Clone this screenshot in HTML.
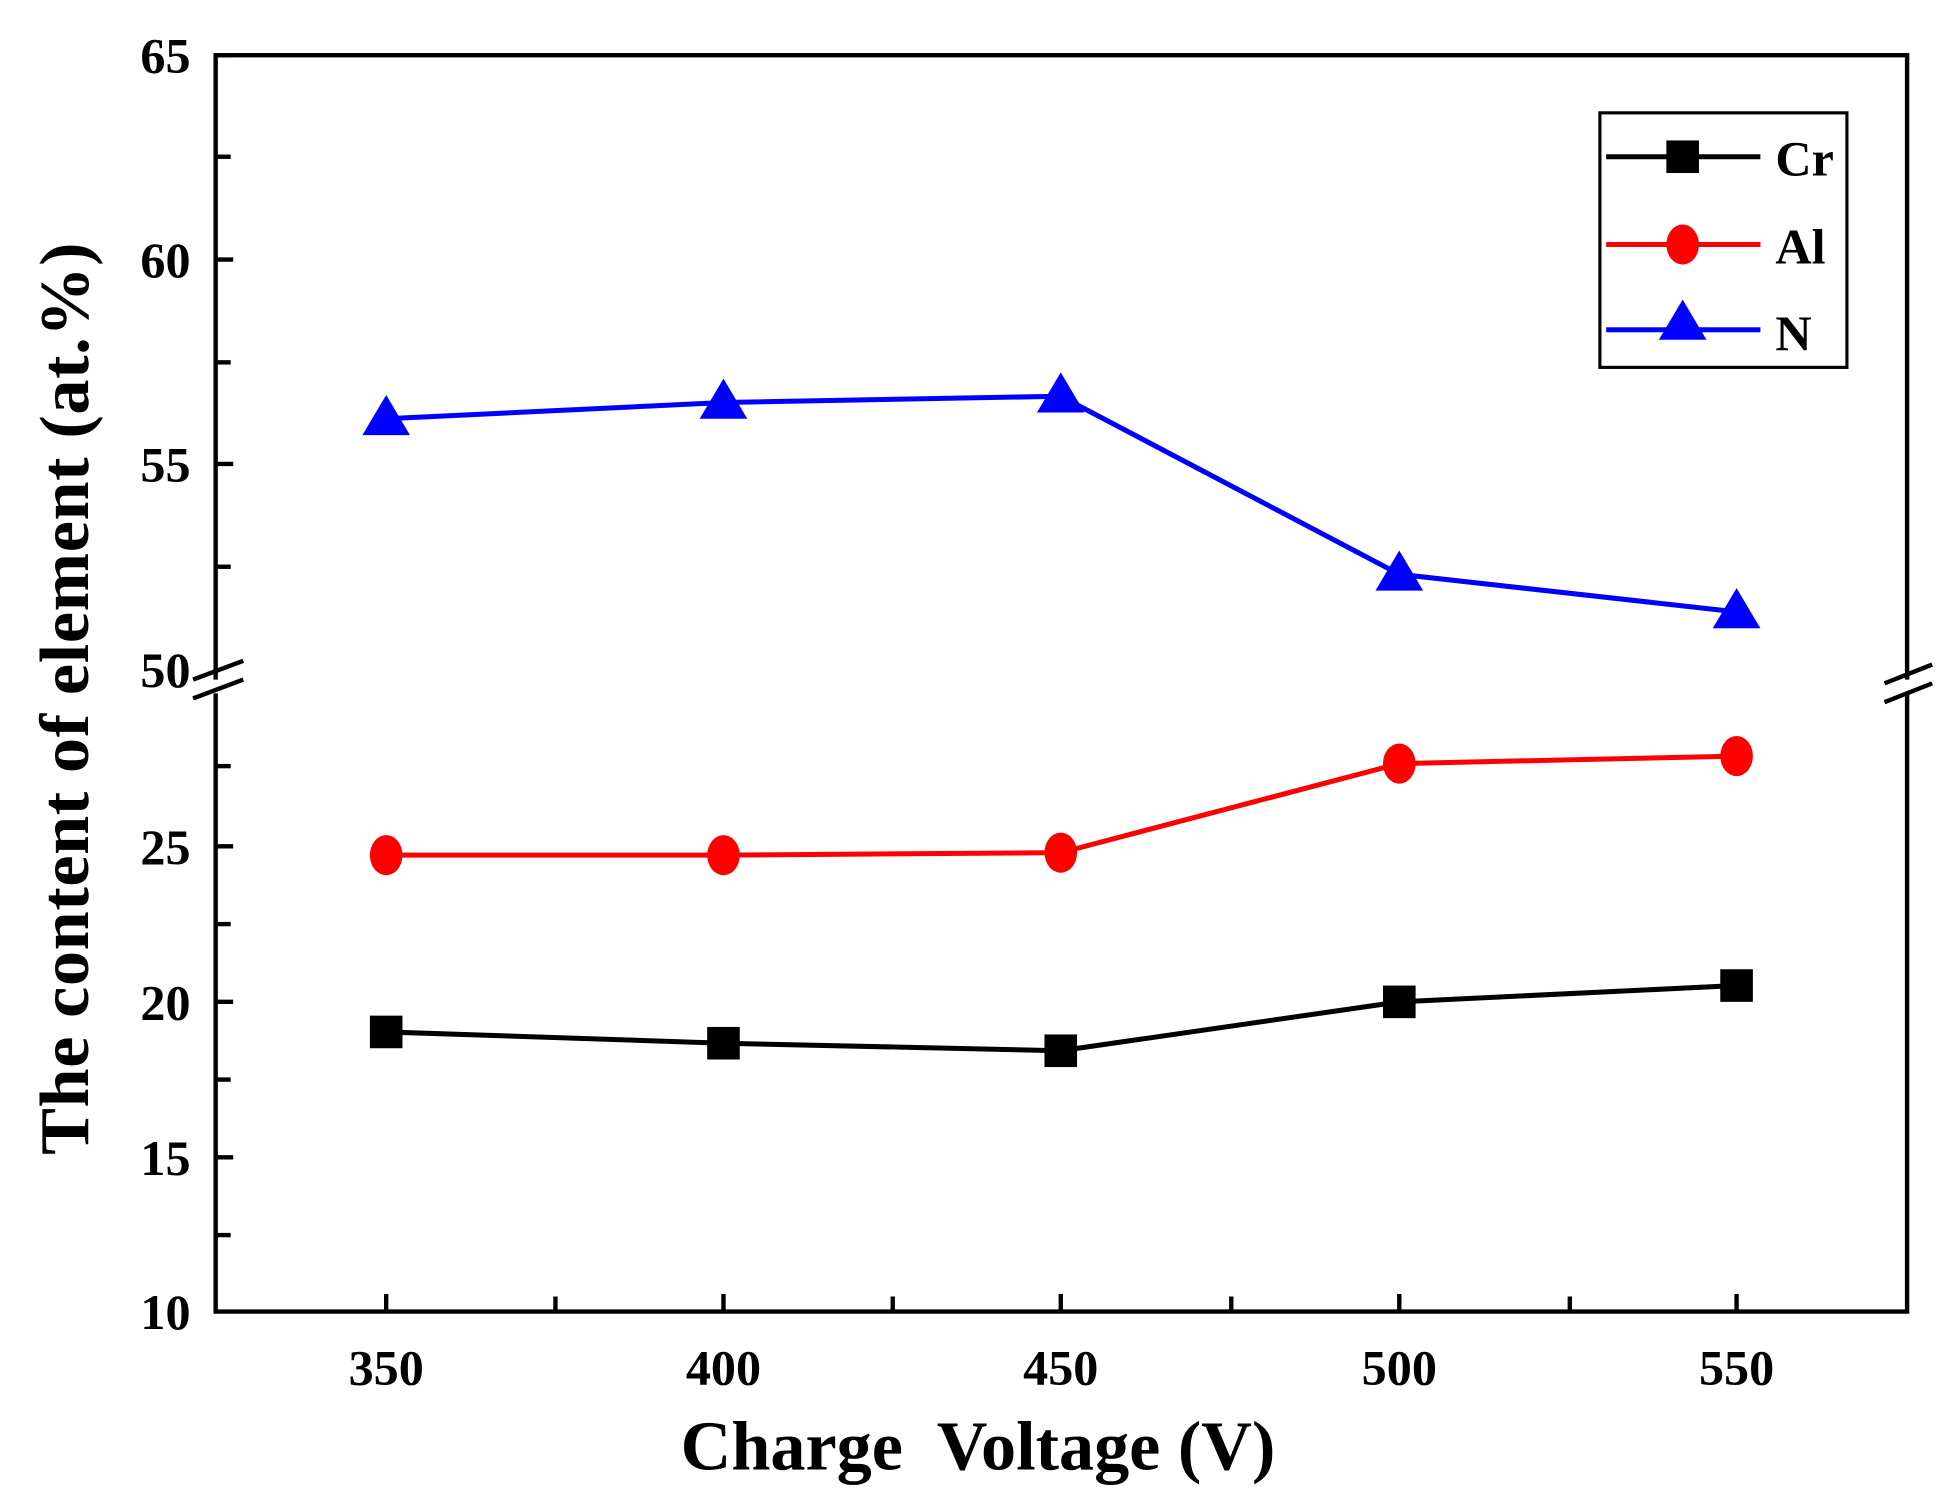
<!DOCTYPE html>
<html><head><meta charset="utf-8"><style>html,body{margin:0;padding:0;background:#fff;}svg{display:block}</style></head>
<body>
<svg width="1956" height="1498" viewBox="0 0 1560 1194.7" preserveAspectRatio="none" xmlns="http://www.w3.org/2000/svg" font-family="Liberation Serif, serif" font-weight="bold">
<defs>
<rect id="sq" x="-13" y="-13" width="26" height="26" fill="#000"/>
<ellipse id="ci" cx="0" cy="0" rx="13" ry="16" fill="#f00"/>
<polygon id="tr" points="0,-19 19,13 -19,13" fill="#00f"/>
</defs>
<g stroke="#000" stroke-width="3.5" fill="none">
<polyline points="172,542 172,44 1521,44 1521,542"/>
<polyline points="172,553 172,1046 1521,1046 1521,553"/>
<line x1="154" y1="542" x2="194" y2="527"/><line x1="154" y1="557" x2="194" y2="542"/>
<line x1="1503" y1="560" x2="1541" y2="545"/><line x1="1503" y1="545" x2="1541" y2="530"/>
<line x1="172" y1="44" x2="186" y2="44"/><line x1="172" y1="125" x2="184" y2="125"/>
<line x1="172" y1="207" x2="186" y2="207"/><line x1="172" y1="289" x2="184" y2="289"/>
<line x1="172" y1="370" x2="186" y2="370"/><line x1="172" y1="452" x2="184" y2="452"/>
<line x1="172" y1="611" x2="184" y2="611"/><line x1="172" y1="675" x2="186" y2="675"/>
<line x1="172" y1="737" x2="184" y2="737"/><line x1="172" y1="799" x2="186" y2="799"/>
<line x1="172" y1="861" x2="184" y2="861"/><line x1="172" y1="923" x2="186" y2="923"/>
<line x1="172" y1="985" x2="184" y2="985"/>
<line x1="308" y1="1046" x2="308" y2="1032"/><line x1="443" y1="1046" x2="443" y2="1034"/>
<line x1="577" y1="1046" x2="577" y2="1032"/><line x1="712" y1="1046" x2="712" y2="1034"/>
<line x1="846" y1="1046" x2="846" y2="1032"/><line x1="982" y1="1046" x2="982" y2="1034"/>
<line x1="1116" y1="1046" x2="1116" y2="1032"/><line x1="1252" y1="1046" x2="1252" y2="1034"/>
<line x1="1385" y1="1046" x2="1385" y2="1032"/>
</g>
<g font-size="40" text-anchor="end">
<text x="152" y="58">65</text><text x="152" y="221">60</text><text x="152" y="384">55</text><text x="152" y="548">50</text>
<text x="152" y="689">25</text><text x="152" y="813">20</text><text x="152" y="937">15</text><text x="152" y="1060">10</text>
</g>
<g font-size="40" text-anchor="middle">
<text x="308" y="1104">350</text><text x="577" y="1104">400</text><text x="846" y="1104">450</text><text x="1116" y="1104">500</text><text x="1385" y="1104">550</text>
</g>
<text x="780" y="1172" font-size="56" text-anchor="middle" xml:space="preserve">Charge  Voltage (V)</text>
<text transform="translate(70,557) rotate(-90)" font-size="56" text-anchor="middle" letter-spacing="0.5">The content of element (at.%)</text>
<polyline points="308,334 577,321 846,316 1116,458 1385,488" fill="none" stroke="#00f" stroke-width="4"/>
<polyline points="308,682 577,682 846,680 1116,609 1385,603" fill="none" stroke="#f00" stroke-width="4"/>
<polyline points="308,823 577,832 846,838 1116,799 1385,786" fill="none" stroke="#000" stroke-width="4"/>
<use href="#tr" x="308" y="334"/><use href="#tr" x="577" y="321"/><use href="#tr" x="846" y="316"/><use href="#tr" x="1116" y="458"/><use href="#tr" x="1385" y="488"/>
<use href="#ci" x="308" y="682"/><use href="#ci" x="577" y="682"/><use href="#ci" x="846" y="680"/><use href="#ci" x="1116" y="609"/><use href="#ci" x="1385" y="603"/>
<use href="#sq" x="308" y="823"/><use href="#sq" x="577" y="832"/><use href="#sq" x="846" y="838"/><use href="#sq" x="1116" y="799"/><use href="#sq" x="1385" y="786"/>
<rect x="1276" y="90" width="197" height="203" fill="#fff" stroke="#000" stroke-width="2.5"/>
<line x1="1281" y1="125" x2="1404" y2="125" stroke="#000" stroke-width="4"/>
<line x1="1281" y1="195" x2="1404" y2="195" stroke="#f00" stroke-width="4"/>
<line x1="1281" y1="263" x2="1404" y2="263" stroke="#00f" stroke-width="4"/>
<use href="#sq" x="1342" y="125"/><use href="#ci" x="1342" y="195"/><use href="#tr" x="1342" y="258"/>
<g font-size="40"><text x="1416" y="140">Cr</text><text x="1416" y="210">Al</text><text x="1416" y="279">N</text></g>
</svg>
</body></html>
